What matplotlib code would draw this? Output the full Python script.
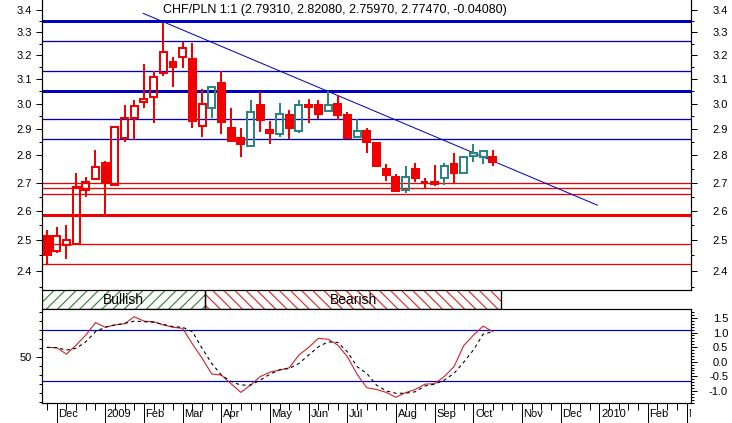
import numpy as np
import matplotlib
matplotlib.use('Agg')
import matplotlib.pyplot as plt
from matplotlib.patches import Rectangle
from matplotlib.ticker import FixedLocator, NullFormatter, FormatStrFormatter
from matplotlib.transforms import Bbox, TransformedBbox, blended_transform_factory

plt.rcParams['font.family'] = ['Liberation Sans', 'DejaVu Sans']
plt.rcParams['axes.unicode_minus'] = False
plt.rcParams['hatch.linewidth'] = 0.8

# Wochenkerzen (Index 0 = erste Dezemberwoche 2008)
symbol = 'CHF/PLN 1:1'
weeks = list(range(-1, 46))
opens = [2.515, 2.463, 2.483, 2.489, 2.674, 2.712, 2.771, 2.691, 2.865, 2.943,
         3.006, 3.029, 3.125, 3.171, 3.192, 3.184, 2.913, 2.985, 3.085, 2.904,
         2.865, 2.836, 2.995, 2.897, 2.881, 2.955, 2.894, 2.994, 2.995, 2.970,
         2.999, 2.957, 2.871, 2.893, 2.846, 2.749, 2.720, 2.672, 2.749, 2.704,
         2.704, 2.716, 2.767, 2.734, 2.798, 2.795, 2.7931]
highs = [2.535, 2.544, 2.551, 2.736, 2.721, 2.820, 2.779, 2.910, 2.995, 3.015,
         3.164, 3.136, 3.343, 3.195, 3.259, 3.253, 3.058, 3.074, 3.134, 2.985,
         2.905, 3.015, 3.049, 2.932, 3.004, 2.975, 3.015, 3.019, 3.015, 3.052,
         3.035, 2.968, 2.939, 2.903, 2.846, 2.769, 2.732, 2.762, 2.771, 2.716,
         2.765, 2.773, 2.811, 2.798, 2.842, 2.820, 2.8208]
lows = [2.418, 2.459, 2.437, 2.488, 2.648, 2.711, 2.581, 2.689, 2.852, 2.859,
        2.982, 2.923, 3.115, 3.069, 3.146, 2.903, 2.868, 2.943, 2.881, 2.850,
        2.795, 2.836, 2.890, 2.842, 2.871, 2.862, 2.884, 2.925, 2.939, 2.970,
        2.936, 2.861, 2.871, 2.810, 2.757, 2.707, 2.668, 2.662, 2.704, 2.680,
        2.689, 2.692, 2.700, 2.734, 2.777, 2.767, 2.7597]
closes = [2.450, 2.516, 2.501, 2.686, 2.703, 2.756, 2.698, 2.907, 2.943, 2.991,
          3.018, 3.111, 3.213, 3.149, 3.231, 2.930, 2.998, 3.067, 2.926, 2.854,
          2.842, 2.968, 2.934, 2.886, 2.961, 2.905, 2.995, 2.989, 2.958, 2.995,
          2.957, 2.867, 2.894, 2.852, 2.762, 2.726, 2.669, 2.722, 2.716, 2.703,
          2.696, 2.759, 2.734, 2.793, 2.808, 2.8155, 2.7747]

month_weeks = [0, 5, 9, 13, 17, 22, 26, 30, 35, 39, 43, 48, 52, 56, 61, 65]
month_labels = ['Dec', '2009', 'Feb', 'Mar', 'Apr', 'May', 'Jun', 'Jul', 'Aug',
                'Sep', 'Oct', 'Nov', 'Dec', '2010', 'Feb', 'Mar']

res_levels = [3.352, 3.261, 3.136, 3.053, 2.940, 2.861]
res_strong = [True, False, False, True, False, False]
sup_levels = [2.698, 2.680, 2.659, 2.586, 2.487, 2.421]
sup_strong = [False, False, False, True, False, False]
trend_x = [8.94, 55.8]
trend_y = [3.385, 2.620]

phase_names = ['Bullish', 'Bearish']
phase_start = [-1.52, 15.3]
phase_end = [15.3, 45.9]

osc_main = [0.49, 0.48, 0.26, 0.57, 0.91, 1.34, 1.18, 1.26, 1.30, 1.54,
            1.39, 1.37, 1.26, 1.18, 1.14, 0.61, 0.12, -0.42, -0.46, -0.76,
            -1.05, -0.80, -0.51, -0.36, -0.28, -0.21, 0.23, 0.49, 0.80, 0.77,
            0.57, 0.17, -0.43, -0.89, -0.95, -1.05, -1.22, -1.06, -0.95, -0.77,
            -0.75, -0.51, -0.17, 0.55, 0.91, 1.22, 1.03]
osc_signal = [0.49, 0.48, 0.40, 0.46, 0.68, 1.03, 1.18, 1.26, 1.31, 1.39,
              1.37, 1.35, 1.28, 1.20, 1.18, 1.03, 0.46, -0.06, -0.46, -0.68,
              -0.80, -0.80, -0.63, -0.43, -0.28, -0.23, -0.06, 0.23, 0.51, 0.68,
              0.66, 0.34, -0.17, -0.40, -0.80, -1.00, -1.08, -1.08, -1.03, -0.83,
              -0.77, -0.63, -0.40, -0.02, 0.40, 0.94, 1.03]
osc_levels = [1.075, -0.67]

RED = '#f00000'
TEAL = '#2a8585'
BLUE = '#0000c0'
PX = 0.72  # 1 Pixel in Punkt bei 100 dpi

W, H = 732, 423
fig = plt.figure(figsize=(W / 100, H / 100), dpi=100, facecolor='white')
xlim = (-1.52, 65.46)

ax = fig.add_axes([42 / W, 1 - 289.5 / H, 649 / W, 289.5 / H])
ax_band = fig.add_axes([42 / W, 1 - 309.3 / H, 649 / W, 19.8 / H])
ax_ind = fig.add_axes([42 / W, 1 - 403 / H, 649 / W, 93.7 / H])

# Hauptchart
ax.set_yscale('log')
ax.set_xlim(xlim)
ax.set_ylim(2.341, 3.446)
for lvl, strong in zip(res_levels, res_strong):
    ax.axhline(lvl, color=BLUE, lw=(3 if strong else 1.3) * PX, zorder=1)
for lvl, strong in zip(sup_levels, sup_strong):
    ax.axhline(lvl, color=RED, lw=(3 if strong else 1.3) * PX, zorder=1)
ax.plot(trend_x, trend_y, color=BLUE, lw=1 * PX, zorder=2)

for k, o, h, l, c in zip(weeks, opens, highs, lows, closes):
    up = c > o
    col = (RED if k < phase_end[0] else TEAL) if up else RED
    top, bot = max(o, c), min(o, c)
    ax.plot([k, k], [top, h], color=col, lw=2 * PX, solid_capstyle='butt', zorder=3)
    ax.plot([k, k], [l, bot], color=col, lw=2 * PX, solid_capstyle='butt', zorder=3)
    ax.add_patch(Rectangle((k - 0.36, bot), 0.72, top - bot,
                           facecolor='none' if up else RED, edgecolor=col,
                           lw=2 * PX, zorder=4))

yt = np.round(np.arange(2.4, 3.41, 0.1), 2)
ymt = np.round(np.arange(2.35, 3.36, 0.1), 2)
ax_r = ax.twinx()
ax_r.set_yscale('log')
ax_r.set_ylim(ax.get_ylim())
for a in (ax, ax_r):
    a.yaxis.set_major_locator(FixedLocator(yt))
    a.yaxis.set_minor_locator(FixedLocator(ymt))
    a.yaxis.set_major_formatter(FormatStrFormatter('%.1f'))
    a.yaxis.set_minor_formatter(NullFormatter())
    a.spines['top'].set_visible(False)
    a.tick_params(axis='x', bottom=False, labelbottom=False)
    a.tick_params(axis='y', which='major', length=6 * PX, width=PX, labelsize=8)
    a.tick_params(axis='y', which='minor', length=3 * PX, width=PX)
ax.tick_params(axis='y', pad=3)
ax_r.tick_params(axis='y', pad=31 * PX)
for lbl in ax_r.get_yticklabels():
    lbl.set_ha('right')

last = len(closes) - 1
title = '%s (%.5f, %.5f, %.5f, %.5f, %.5f)' % (
    symbol, opens[last], highs[last], lows[last], closes[last],
    closes[last] - closes[last - 1])
fig.text(163 / W, 1 - 9.5 / H, title, ha='left', va='center', fontsize=9)

# Phasen-Band
ax_band.set_xlim(xlim)
ax_band.set_ylim(0, 1)
ax_band.axis('off')
hatches = ['///', '\\\\\\']
hcolors = ['#2f7f2f', '#e02020']
for name, x0, x1, hs, hc in zip(phase_names, phase_start, phase_end, hatches, hcolors):
    ax_band.add_patch(Rectangle((x0, 0), x1 - x0, 1, fill=False, hatch=hs,
                                edgecolor=hc, lw=0))
    ax_band.add_patch(Rectangle((x0, 0), x1 - x0, 1, fill=False,
                                edgecolor='black', lw=1.3 * PX))
    ax_band.text((x0 + x1) / 2, 0.45, name, ha='center', va='center', fontsize=10)

# Oszillator
ax_ind.set_xlim(xlim)
ax_ind.set_ylim(-1.4, 102.7)
ax_ind.yaxis.set_major_locator(FixedLocator([50]))
ax_ind.yaxis.set_minor_locator(FixedLocator([0, 10, 20, 30, 40, 60, 70, 80, 90, 100]))
ax_ind.tick_params(axis='y', which='major', length=6 * PX, width=PX, labelsize=8, pad=3)
ax_ind.tick_params(axis='y', which='minor', length=3 * PX, width=PX)
ax_ind.xaxis.set_major_locator(FixedLocator(month_weeks))
ax_ind.xaxis.set_minor_locator(FixedLocator(list(range(-1, 66))))
ax_ind.xaxis.set_major_formatter(NullFormatter())
ax_ind.tick_params(axis='x', which='major', length=20 * PX, width=PX)
ax_ind.tick_params(axis='x', which='minor', length=7 * PX, width=PX)

ax_osc = ax_ind.twinx()
ax_osc.set_ylim(-1.414, 1.795)
ax_osc.yaxis.set_major_locator(FixedLocator([-1.0, -0.5, 0.0, 0.5, 1.0, 1.5]))
ax_osc.yaxis.set_minor_locator(FixedLocator(np.round(np.arange(-1.4, 1.8, 0.1), 1)))
ax_osc.yaxis.set_major_formatter(FormatStrFormatter('%.1f'))
ax_osc.tick_params(axis='y', which='major', length=6 * PX, width=PX, labelsize=8,
                   pad=31 * PX)
ax_osc.tick_params(axis='y', which='minor', length=3 * PX, width=PX)
for lbl in ax_osc.get_yticklabels():
    lbl.set_ha('right')
for lvl in osc_levels:
    ax_osc.axhline(lvl, color=BLUE, lw=1.2 * PX)
ax_osc.plot(weeks, osc_main, color='#d0202a', lw=1.1 * PX)
ax_osc.plot(weeks, osc_signal, color='black', lw=1.1 * PX, dashes=(3, 3))

clip = TransformedBbox(Bbox([[42 / W, 0], [691 / W, 1]]), fig.transFigure)
trans = blended_transform_factory(ax_ind.transData, ax_ind.transAxes)
for k, lab in zip(month_weeks, month_labels):
    t = ax_ind.text(k + 0.17, -0.068, lab, transform=trans, ha='left', va='top',
                    fontsize=8, clip_on=True)
    t.set_clip_box(clip)

fig.savefig('out.png', dpi=100, facecolor='white')
